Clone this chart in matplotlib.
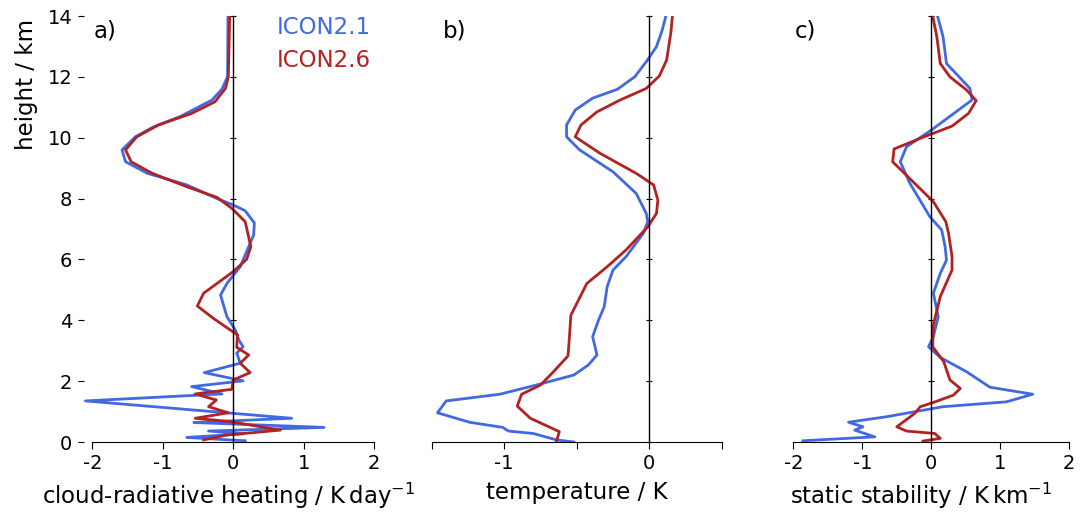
import matplotlib.pyplot as plt
import numpy as np

plt.rcParams['font.family'] = 'DejaVu Sans'
plt.rcParams['axes.unicode_minus'] = False

BLUE = '#4169E1'   # ICON2.1
RED = '#B22222'    # ICON2.6

# a) cloud-radiative heating (K/day)
z_crh_21 = [14.0, 12.0, 11.6, 11.24, 10.7, 10.36, 10.03, 9.6, 9.21, 8.83, 8.45, 8.0, 7.79, 7.6,
            7.2, 6.8, 6.42, 5.76, 5.21, 4.83, 4.12, 3.68, 3.35, 3.13, 2.92, 2.59, 2.28, 2.01,
            1.82, 1.58, 1.35, 0.78, 0.64, 0.48, 0.36, 0.27, 0.15, 0.04]
crh_21 = [-0.075, -0.08, -0.16, -0.30, -0.75, -1.13, -1.39, -1.58, -1.53, -1.22, -0.66, -0.23,
          0.0, 0.17, 0.30, 0.29, 0.22, 0.10, -0.09, -0.18, -0.09, 0.03, 0.08, 0.14, 0.05, 0.10,
          -0.41, 0.14, -0.59, -0.16, -2.10, 0.83, -0.56, 1.29, -0.35, 0.15, -0.66, 0.17]
z_crh_26 = [14.0, 12.0, 11.62, 11.18, 10.8, 10.42, 10.03, 9.6, 9.21, 8.83, 8.39, 8.04, 7.68,
            7.24, 6.42, 6.0, 5.6, 4.89, 4.47, 4.06, 3.52, 3.11, 2.86, 2.59, 2.28, 2.04, 1.73,
            1.58, 1.38, 1.16, 0.96, 0.78, 0.67, 0.39, 0.23, 0.07]
crh_26 = [-0.05, -0.07, -0.11, -0.26, -0.59, -1.06, -1.37, -1.53, -1.45, -1.15, -0.66, -0.23,
          -0.02, 0.17, 0.25, 0.19, 0.0, -0.42, -0.51, -0.28, 0.06, 0.05, 0.22, 0.10, 0.24, 0.0,
          -0.02, -0.54, -0.24, -0.35, -0.07, -0.54, -0.04, 0.67, -0.09, -0.42]

# b) temperature (K)
z_t_21 = [14.0, 13.54, 12.99, 12.5, 12.0, 11.59, 11.3, 10.91, 10.42, 10.03, 9.6, 8.88, 8.17,
          7.51, 7.24, 6.86, 6.09, 5.65, 5.1, 4.45, 4.0, 3.46, 2.86, 2.53, 2.2, 1.87, 1.57,
          1.35, 0.96, 0.65, 0.48, 0.36, 0.28, 0.07, 0.0]
t_21 = [0.115, 0.09, 0.05, -0.02, -0.10, -0.22, -0.39, -0.51, -0.57, -0.57, -0.48, -0.25,
        -0.09, -0.02, -0.01, -0.04, -0.16, -0.25, -0.29, -0.31, -0.35, -0.39, -0.36, -0.42,
        -0.52, -0.78, -1.03, -1.40, -1.46, -1.24, -1.01, -0.97, -0.80, -0.64, -0.52]
z_t_26 = [14.0, 13.47, 12.55, 12.03, 11.62, 11.24, 10.85, 10.42, 10.03, 9.49, 8.83, 8.45,
          7.95, 7.51, 7.07, 6.31, 5.76, 5.21, 4.17, 3.46, 2.83, 2.31, 1.87, 1.57, 1.18, 0.78,
          0.34, 0.01]
t_26 = [0.16, 0.15, 0.12, 0.07, -0.02, -0.20, -0.36, -0.47, -0.51, -0.34, -0.09, 0.03, 0.06,
        0.05, -0.01, -0.16, -0.29, -0.43, -0.54, -0.55, -0.56, -0.66, -0.75, -0.88, -0.91,
        -0.82, -0.62, -0.64]

# c) static stability (K/km)
z_s_21 = [14.0, 13.32, 12.44, 11.62, 11.24, 10.25, 9.7, 9.21, 8.5, 7.4, 6.97, 6.42, 5.98,
          5.54, 4.89, 4.12, 3.46, 3.13, 2.78, 2.31, 1.80, 1.57, 1.32, 1.16, 0.83, 0.65, 0.50,
          0.39, 0.17, 0.04]
s_21 = [0.09, 0.17, 0.22, 0.56, 0.59, 0.0, -0.36, -0.45, -0.31, -0.02, 0.15, 0.20, 0.22,
        0.13, 0.03, 0.10, 0.03, -0.04, 0.13, 0.51, 0.85, 1.47, 1.09, 0.17, -0.65, -1.20,
        -0.99, -1.11, -0.82, -1.86]
z_s_26 = [14.0, 13.32, 12.44, 12.0, 11.57, 11.22, 10.8, 10.38, 9.98, 9.63, 9.21, 8.43, 7.9,
          7.24, 6.86, 6.09, 5.65, 4.78, 3.85, 3.13, 2.64, 2.04, 1.76, 1.54, 1.30, 1.16, 0.94,
          0.50, 0.36, 0.28, 0.12, 0.03]
s_26 = [0.02, 0.08, 0.13, 0.27, 0.51, 0.65, 0.54, 0.30, -0.16, -0.54, -0.56, -0.21, 0.03,
        0.21, 0.25, 0.30, 0.30, 0.13, 0.03, 0.02, 0.18, 0.27, 0.42, 0.32, 0.03, -0.16, -0.24,
        -0.50, -0.36, 0.05, 0.13, -0.12]

W, H = 1088, 512
fig = plt.figure(figsize=(W / 100, H / 100), dpi=100)

# (left px, width px, xlim, spine bounds, ticks, tick labels, xlabel, panel tag, tag x px, data)
panels = [
    (84, 290, (-2.12, 2.0), (-2, 2), [-2, -1, 0, 1, 2], ['-2', '-1', '0', '1', '2'],
     r'cloud-radiative heating / K$\,$day$^{-1}$', 'a)', 94,
     (z_crh_21, crh_21), (z_crh_26, crh_26)),
    (431.7, 290, (-1.5, 0.5), (-1.5, 0.5), [-1.5, -1, -0.5, 0, 0.5], ['', '-1', '', '0', ''],
     'temperature / K', 'b)', 443, (z_t_21, t_21), (z_t_26, t_26)),
    (773.3, 296, (-2.29, 2.0), (-2, 2), [-2, -1, 0, 1, 2], ['-2', '-1', '0', '1', '2'],
     r'static stability / K$\,$km$^{-1}$', 'c)', 795, (z_s_21, s_21), (z_s_26, s_26)),
]

for i, (lp, wp, xl, bnd, xt, xtl, lab, tag, tagx, s21, s26) in enumerate(panels):
    ax = fig.add_axes([lp / W, 70 / H, wp / W, 426 / H])
    ax.plot(s21[1], s21[0], color=BLUE, lw=2.0)
    ax.plot(s26[1], s26[0], color=RED, lw=2.0)
    ax.set_xlim(*xl)
    ax.set_ylim(0, 14)
    ax.spines['top'].set_visible(False)
    ax.spines['left'].set_visible(False)
    ax.spines['left'].set_position(('outward', 2.5))
    ax.spines['right'].set_position(('data', 0))
    ax.spines['right'].set_linewidth(1.0)
    ax.spines['bottom'].set_bounds(*bnd)
    ax.set_xticks(xt)
    ax.set_xticklabels(xtl)
    ax.set_yticks(np.arange(0, 15, 2))
    ax.tick_params(axis='x', labelsize=14, length=5)
    ax.tick_params(axis='y', direction='inout', length=5, labelsize=14,
                   left=(i == 0), labelleft=(i == 0), right=True, labelright=False)
    ax.set_xlabel(lab, fontsize=16.5, labelpad=6)
    fig.text(tagx / W, 1 - 37.5 / H, tag, fontsize=16.5, ha='left', va='baseline')

fig.text(26 / W, 1 - 84 / H, 'height / km', rotation=90, fontsize=16.5, ha='center', va='center')
fig.text(277 / W, 1 - 34 / H, 'ICON2.1', color=BLUE, fontsize=16.5, ha='left', va='baseline')
fig.text(277 / W, 1 - 67 / H, 'ICON2.6', color=RED, fontsize=16.5, ha='left', va='baseline')

fig.savefig('out.png', dpi=100)
